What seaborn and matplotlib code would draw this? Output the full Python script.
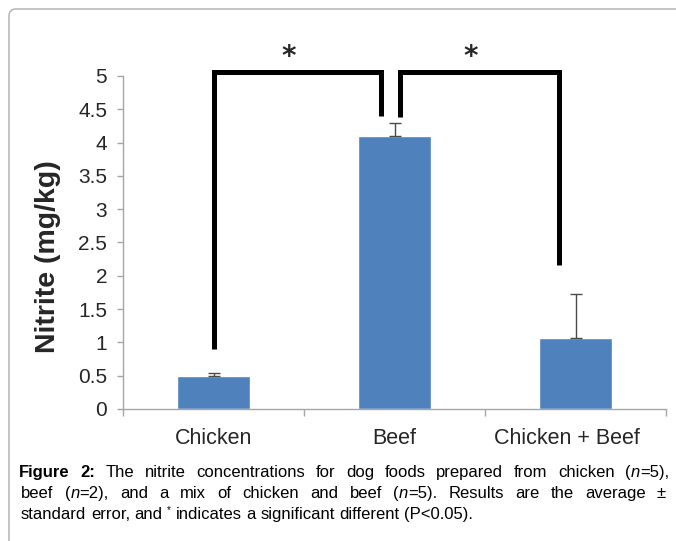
import numpy as np
import pandas as pd
import seaborn as sns
import matplotlib
matplotlib.use("Agg")
import matplotlib.pyplot as plt
from matplotlib import font_manager
from matplotlib.patches import FancyBboxPatch
from matplotlib.transforms import IdentityTransform, ScaledTranslation

# ---- data -------------------------------------------------------------
categories = ["Chicken", "Beef", "Chicken + Beef"]
nitrite_mean = [0.5, 4.1, 1.07]        # mg/kg
nitrite_se = [0.04, 0.2, 0.65]         # standard error (upper bar only)
y_ticks = [0, 0.5, 1, 1.5, 2, 2.5, 3, 3.5, 4, 4.5, 5]
y_tick_labels = ["0", "0.5", "1", "1.5", "2", "2.5", "3", "3.5", "4", "4.5", "5"]

# significance brackets: (x left, x right, left foot, right foot)
brackets = [(0.0, 0.925, 0.9, 4.4), (1.03, 1.91, 4.38, 2.16)]
bracket_top = 5.06
star_x = [0.415, 1.42]
star_y = 5.28

# ---- style ------------------------------------------------------------
sns.set_theme(style="white")
plt.rcParams["font.family"] = ["Liberation Sans", "DejaVu Sans"]
avail = {f.name for f in font_manager.fontManager.ttflist}
cap_family = "Liberation Sans Narrow" if "Liberation Sans Narrow" in avail else "Liberation Sans"

W, H = 676, 541
fig = plt.figure(figsize=(W / 100, H / 100), dpi=100)
fig.patch.set_facecolor("white")

ax = fig.add_axes([123 / W, 1 - 409 / H, 543 / W, 333 / H])
df = pd.DataFrame({"category": categories, "nitrite": nitrite_mean})
sns.barplot(data=df, x="category", y="nitrite", color="#4F81BD", saturation=1,
            width=0.4, errorbar=None, ax=ax, zorder=2)
ax.errorbar(np.arange(len(categories)), nitrite_mean,
            yerr=[np.zeros(len(categories)), nitrite_se], fmt="none",
            ecolor="#4a4a4a", elinewidth=1.0, capsize=4, capthick=1.0, zorder=3)

ax.set_xlim(-0.5, 2.5)
ax.set_ylim(0, 5)
for s in ["top", "right"]:
    ax.spines[s].set_visible(False)
for s in ["left", "bottom"]:
    ax.spines[s].set_color("#a6a6a6")
    ax.spines[s].set_linewidth(1.0)

ax.set_yticks(y_ticks, y_tick_labels)
ax.tick_params(axis="y", direction="out", length=4.5, width=1, color="#a6a6a6",
               labelsize=15, pad=7, left=True)
ax.set_xticks(range(len(categories)), categories)
ax.set_xticks([-0.5, 0.5, 1.5, 2.5], minor=True)
ax.tick_params(axis="x", which="major", length=0, labelsize=15.5, pad=14)
ax.tick_params(axis="x", which="minor", direction="out", length=5, width=1,
               color="#a6a6a6", bottom=True)
# the last category label sits a little left of its bar
last = ax.get_xticklabels()[-1]
last.set_transform(last.get_transform()
                   + ScaledTranslation(-0.09, 0, fig.dpi_scale_trans))
ax.set_xlabel("")
ax.set_ylabel("Nitrite (mg/kg)", fontsize=20.5, fontweight="bold", va="center")
ax.yaxis.set_label_coords(-0.138, 0.459)

# significance brackets and stars
for x0, x1, f0, f1 in brackets:
    ax.plot([x0, x0, x1, x1], [f0, bracket_top, bracket_top, f1], color="black",
            lw=3.6, clip_on=False, solid_joinstyle="miter", solid_capstyle="butt",
            zorder=4)
for sx in star_x:
    ax.text(sx, star_y, "*", fontsize=20, fontweight="bold", ha="center",
            va="center", clip_on=False, family="DejaVu Sans")

# ---- frame ------------------------------------------------------------
frame = FancyBboxPatch((9, -30), 720, H - 9 + 30,
                       boxstyle="round,pad=0,rounding_size=7",
                       transform=IdentityTransform(), fill=False,
                       edgecolor="#b4b4b4", linewidth=1.1)
fig.patches.append(frame)

# ---- caption ----------------------------------------------------------
renderer = fig.canvas.get_renderer()
CAP_SIZE = 12


def text_kw(style):
    kw = dict(fontsize=CAP_SIZE, family=cap_family, color="black")
    if style == "b":
        kw["fontweight"] = "bold"
    elif style == "i":
        kw["fontstyle"] = "italic"
    elif style == "s":
        kw["fontsize"] = CAP_SIZE * 0.6
    return kw


def run_text(x, y, text, style):
    if style == "s":
        y = y + 6
    t = fig.text(x, y, text, va="baseline", ha="left",
                 transform=IdentityTransform(), **text_kw(style))
    return t.get_window_extent(renderer).width


def measure(text, style):
    t = fig.text(0, 0, text, **text_kw(style))
    w = t.get_window_extent(renderer).width
    t.remove()
    return w


space_w = measure("a a", "r") - measure("aa", "r")


def draw_line(words, x0, y, x1=None):
    widths = [sum(measure(t, s) for t, s in w) for w in words]
    if x1 is None:
        gap = space_w
    else:
        gap = (x1 - x0 - sum(widths)) / (len(words) - 1)
    x = x0
    ypix = H - y
    for w, ww in zip(words, widths):
        xx = x
        for t, s in w:
            xx += run_text(xx, ypix, t, s)
        x += ww + gap


def words_of(text, style="r"):
    return [[(w, style)] for w in text.split()]


line1 = (words_of("Figure 2:", "b")
         + words_of("The nitrite concentrations for dog foods prepared from chicken")
         + [[("(", "r"), ("n", "i"), ("=5),", "r")]])
line2 = (words_of("beef") + [[("(", "r"), ("n", "i"), ("=2),", "r")]]
         + words_of("and a mix of chicken and beef")
         + [[("(", "r"), ("n", "i"), ("=5).", "r")]]
         + words_of("Results are the average ±"))
line3 = (words_of("standard error, and") + [[("*", "s")]]
         + words_of("indicates a significant different (P<0.05)."))

draw_line(line1, 19, 477, 669)
draw_line(line2, 21, 498, 666)
draw_line(line3, 21, 519)

fig.savefig("out.png", dpi=100, facecolor="white")
